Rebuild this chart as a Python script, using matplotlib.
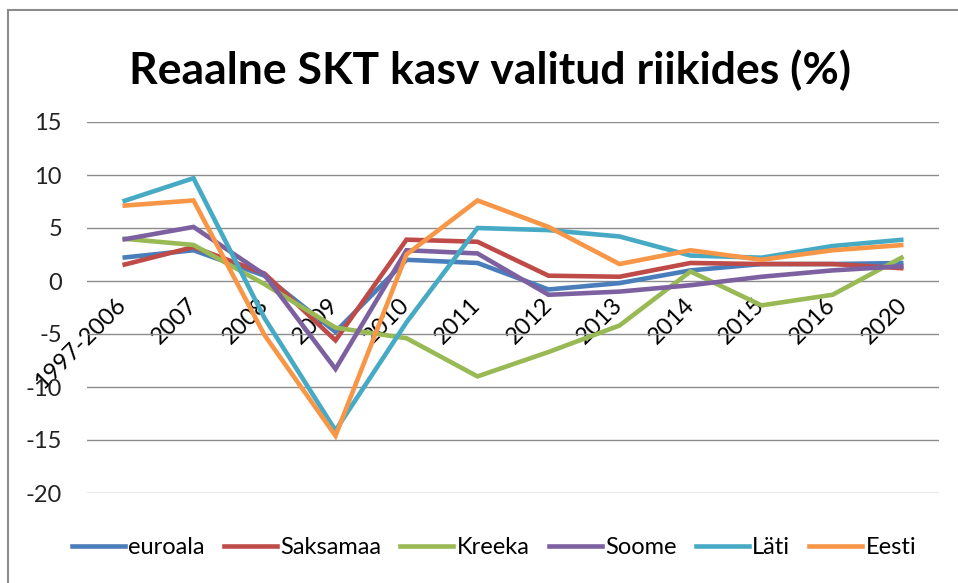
import matplotlib
matplotlib.use("Agg")
import matplotlib.pyplot as plt
from matplotlib.lines import Line2D

categories = ['1997-2006', '2007', '2008', '2009', '2010', '2011', '2012',
              '2013', '2014', '2015', '2016', '2020']
euroala = [2.2, 2.9, 0.5, -4.8, 2.0, 1.7, -0.8, -0.2, 1.0, 1.6, 1.6, 1.7]
saksamaa = [1.5, 3.2, 0.7, -5.6, 3.9, 3.7, 0.5, 0.4, 1.7, 1.6, 1.6, 1.2]
kreeka = [4.0, 3.4, -0.3, -4.4, -5.4, -9.0, -6.7, -4.2, 0.9, -2.3, -1.3, 2.3]
soome = [3.9, 5.1, 0.6, -8.3, 2.9, 2.6, -1.3, -1.0, -0.4, 0.4, 1.0, 1.4]
lati = [7.5, 9.7, -3.5, -14.1, -3.9, 5.0, 4.8, 4.2, 2.4, 2.2, 3.3, 3.9]
eesti = [7.1, 7.6, -5.1, -14.6, 2.5, 7.6, 5.1, 1.6, 2.9, 2.0, 2.9, 3.4]

series_names = ['euroala', 'Saksamaa', 'Kreeka', 'Soome', 'Läti', 'Eesti']
series_values = [euroala, saksamaa, kreeka, soome, lati, eesti]
colors = ['#4A7EBB', '#BE4B48', '#98B954', '#7D60A0', '#46AAC5', '#F79646']
yticks = [15, 10, 5, 0, -5, -10, -15, -20]
title = 'Reaalne SKT kasv valitud riikides (%)'

plt.rcParams['font.family'] = ['Lato', 'DejaVu Sans']

W, H = 958, 583
fig = plt.figure(figsize=(W / 100, H / 100), dpi=100)
fig.patch.set_facecolor('white')

def fx(px):
    return px / W

def fy(py):
    return 1 - py / H

ax = fig.add_axes([fx(87), fy(493), fx(939) - fx(87), fy(122) - fy(493)])
x = list(range(len(categories)))
for name, vals, c in zip(series_names, series_values, colors):
    ax.plot(x, vals, color=c, lw=3.3, label=name, solid_joinstyle='miter',
            solid_capstyle='butt')

ax.set_xlim(-0.5, len(categories) - 0.5)
ax.set_ylim(-20, 15)
ax.set_yticks(yticks)
ax.set_yticklabels([str(v) for v in yticks])
ax.yaxis.grid(True, color='#8C8C8C', lw=1.0)
ax.set_axisbelow(True)
for s in ['left', 'right', 'top']:
    ax.spines[s].set_visible(False)
ax.spines['bottom'].set_position(('data', 0))
ax.spines['bottom'].set_visible(False)
ax.tick_params(axis='y', length=0, pad=18, labelsize=17, labelcolor='#222222')
ax.set_xticks(x)
ax.set_xticklabels(categories, rotation=45, ha='right', va='center',
                   rotation_mode='anchor')
ax.tick_params(axis='x', length=0, pad=15, labelsize=17, labelcolor='black')

# title
t = fig.text(fx(490), fy(84), title, ha='center', va='baseline',
             fontsize=40, fontweight='bold', color='black')
fig.canvas.draw()
bb = t.get_window_extent()
t.set_fontsize(40 * 720 / bb.width)

# legend
handles = [Line2D([0], [0], color=c, lw=3.3) for c in colors]
leg = fig.legend(handles, series_names, loc='center', bbox_to_anchor=(fx(494), fy(548)),
                 ncol=6, frameon=False, fontsize=17, handlelength=2.25,
                 handletextpad=0.15, columnspacing=0.8, borderpad=0)

# outer frame (left and top edges)
fig.add_artist(Line2D([fx(8), fx(8)], [fy(10), 0], color='#8C8C8C', lw=1.5,
                      transform=fig.transFigure))
fig.add_artist(Line2D([fx(8), 1], [fy(10), fy(10)], color='#8C8C8C', lw=1.5,
                      transform=fig.transFigure))

fig.savefig('out.png', dpi=100)
